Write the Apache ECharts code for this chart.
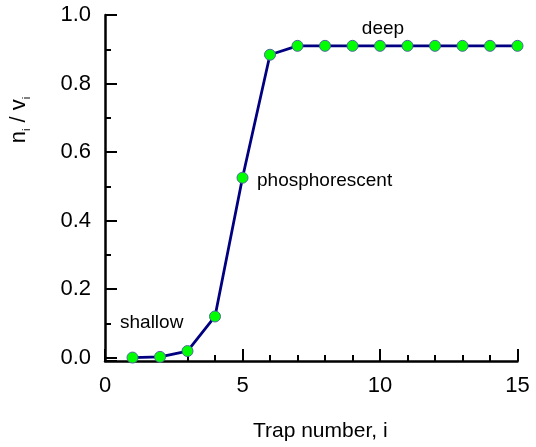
<!DOCTYPE html>
<html>
<head>
<meta charset="utf-8">
<script src="https://cdn.jsdelivr.net/npm/echarts@6/dist/echarts.min.js"></script>
<style>html,body{margin:0;padding:0;background:#fff}#c{width:536px;height:447px}</style>
</head>
<body>
<div id="c"></div>
<script>
var trapNumbers = [1,2,3,4,5,6,7,8,9,10,11,12,13,14,15];
var ratioValues = [0.0, 0.002, 0.019, 0.12, 0.525, 0.884, 0.910, 0.910, 0.910, 0.910, 0.910, 0.910, 0.910, 0.910, 0.910];
var xTickLabels = ['0','5','10','15'];
var yTickLabels = ['0.0','0.2','0.4','0.6','0.8','1.0'];
var xRange = [0, 15];
var yRange = [-0.01, 1.0];

var font = '"Liberation Sans", Arial, sans-serif';
var chart = echarts.init(document.getElementById('c'));
var pts = trapNumbers.map(function(x, i){ return [x, ratioValues[i]]; });

chart.setOption({
  animation: false,
  backgroundColor: '#fff',
  grid: {left: 105, right: 18.5, top: 15, bottom: 83, containLabel: false},
  xAxis: {
    type: 'value', min: xRange[0], max: xRange[1], interval: 5,
    name: 'Trap number, i', nameLocation: 'middle', nameGap: 60,
    nameTextStyle: {fontFamily: font, fontSize: 21, color: '#000', padding: [0, 0, 0, 18]},
    axisLine: {show: true, onZero: false, lineStyle: {color: '#000', width: 2.5}},
    axisTick: {show: true, inside: true, length: 12, lineStyle: {color: '#000', width: 2}},
    minorTick: {show: true, splitNumber: 5, length: 6, lineStyle: {color: '#000', width: 2}},
    axisLabel: {fontFamily: font, fontSize: 22, color: '#000', margin: 14,
      formatter: function(v){ var s = String(v); return xTickLabels.indexOf(s) >= 0 ? s : ''; }},
    splitLine: {show: false}
  },
  yAxis: {
    type: 'value', position: 'left', min: yRange[0], max: yRange[1], splitNumber: 5,
    axisLine: {show: true, onZero: false, lineStyle: {color: '#000', width: 2.5}},
    axisTick: {show: true, inside: true, length: 12, lineStyle: {color: '#000', width: 2}},
    minorTick: {show: true, splitNumber: 2, length: 6, lineStyle: {color: '#000', width: 2}},
    axisLabel: {fontFamily: font, fontSize: 22, color: '#000', margin: 14, showMinLabel: false,
      formatter: function(v){ var s = v.toFixed(1); return (Math.abs(v*10 - Math.round(v*10)) < 1e-6 && yTickLabels.indexOf(s) >= 0) ? s : ''; }},
    splitLine: {show: false}
  },
  graphic: [
    {type: 'text', x: 19, y: 120, rotation: Math.PI/2,
      style: {text: '{m|n}{s|i}{m| / v}{s|i}', align: 'center', verticalAlign: 'middle',
        rich: {
          m: {fontFamily: font, fontSize: 22, lineHeight: 26, fill: '#000', verticalAlign: 'middle'},
          s: {fontFamily: font, fontSize: 11, lineHeight: 12, fill: '#000', verticalAlign: 'bottom'}
        }}},
    {type: 'text', x: 120, y: 323, style: {text: 'shallow', fontFamily: font, fontSize: 19, fill: '#000', verticalAlign: 'middle'}},
    {type: 'text', x: 257, y: 181, style: {text: 'phosphorescent', fontFamily: font, fontSize: 19, fill: '#000', verticalAlign: 'middle'}},
    {type: 'text', x: 383, y: 29, style: {text: 'deep', fontFamily: font, fontSize: 19, fill: '#000', align: 'center', verticalAlign: 'middle'}}
  ],
  series: [{
    type: 'line', data: pts, symbol: 'circle', symbolSize: 11,
    lineStyle: {color: '#000080', width: 2.8},
    itemStyle: {color: '#00ff00', borderColor: '#4a6a9a', borderWidth: 1},
    z: 3
  }]
});
</script>
</body>
</html>
